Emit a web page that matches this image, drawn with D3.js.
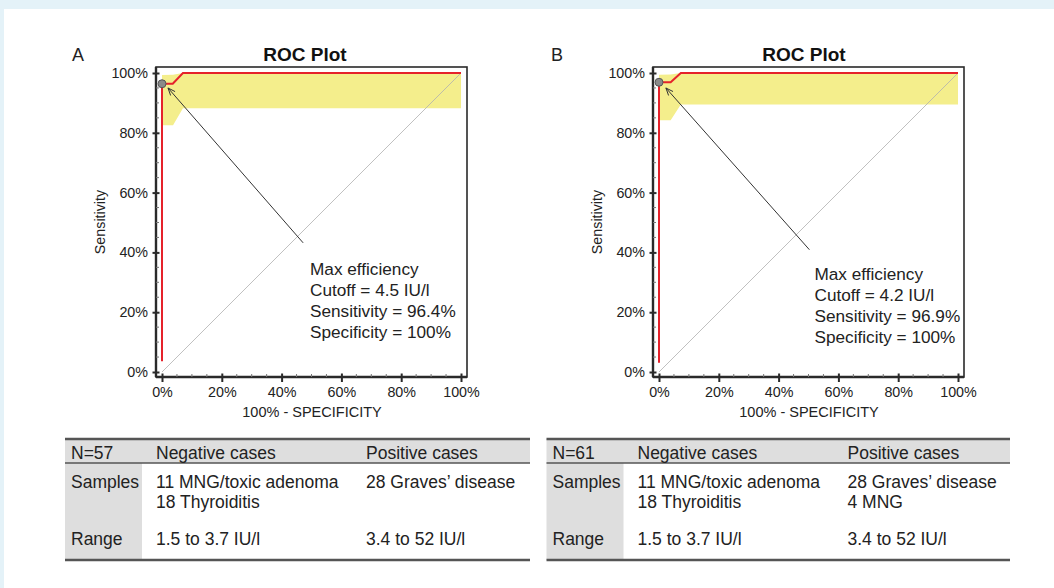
<!DOCTYPE html>
<html><head><meta charset="utf-8">
<script src="https://cdn.jsdelivr.net/npm/d3@7"></script>
<style>
html,body{margin:0;padding:0;background:#e4f2f8;}
svg{display:block;font-family:"Liberation Sans",Arial,sans-serif;}
</style></head>
<body>
<svg id="chart" width="1054" height="588"></svg>
<script>
// ---------- DATA ----------
const panelLetters = ["A", "B"];
const plotTitle = "ROC Plot";
const xAxisTitle = "100% - SPECIFICITY";
const yAxisTitle = "Sensitivity";
const majorTicks = [0, 20, 40, 60, 80, 100];
const minorTicks = [5,10,15,25,30,35,45,50,55,65,70,75,85,90,95];

// ROC curves (x = 100% - specificity, y = sensitivity), percent
const rocA_x = [0, 0, 3.6, 7, 100];
const rocA_y = [3.6, 96.4, 96.4, 100, 100];
const rocB_x = [0, 0, 3.9, 7.3, 100];
const rocB_y = [3.1, 96.9, 96.9, 100, 100];

// confidence band
const ciA_x = [0, 3.7, 7, 100];
const ciA_lo = [82.5, 82.5, 88.2, 88.2];
const ciA_hi = [99.3, 99.4, 100, 100];
const ciB_x = [0, 3.9, 7.3, 100];
const ciB_lo = [84.2, 84.2, 89.5, 89.5];
const ciB_hi = [99.4, 99.5, 100, 100];

// optimal point
const optA = [0, 96.4];
const optB = [0, 96.9];

// annotation text, its anchor and arrow tail (data coords)
const annA_lines = ["Max efficiency", "Cutoff = 4.5 IU/l", "Sensitivity = 96.4%", "Specificity = 100%"];
const annB_lines = ["Max efficiency", "Cutoff = 4.2 IU/l", "Sensitivity = 96.9%", "Specificity = 100%"];
const annA_anchor = [49.5, 34.5];
const annB_anchor = [52, 32.8];
const arrowA = [[47.2, 43.2], [2.0, 95.0]];
const arrowB = [[50.3, 40.9], [2.3, 95.0]];

// tables
const tableA_header = ["N=57", "Negative cases", "Positive cases"];
const tableB_header = ["N=61", "Negative cases", "Positive cases"];
const rowLabels = ["Samples", "Range"];
const tableA_samplesNeg = ["11 MNG/toxic adenoma", "18 Thyroiditis"];
const tableA_samplesPos = ["28 Graves\u2019 disease"];
const tableB_samplesNeg = ["11 MNG/toxic adenoma", "18 Thyroiditis"];
const tableB_samplesPos = ["28 Graves\u2019 disease", "4 MNG"];
const tableA_range = ["1.5 to 3.7 IU/l", "3.4 to 52 IU/l"];
const tableB_range = ["1.5 to 3.7 IU/l", "3.4 to 52 IU/l"];

// ---------- DRAW ----------
const svg = d3.select("#chart");
svg.append("rect").attr("x", 4).attr("y", 9).attr("width", 1050).attr("height", 579).attr("fill", "#fff");

function drawPanel(cfg) {
  const g = svg.append("g").attr("transform", `translate(${cfg.dx},0)`);
  const x = d3.scaleLinear().domain([0, 100]).range([162, 461]);
  const y = d3.scaleLinear().domain([0, 100]).range([372, 73]);
  const frameL = 156, frameR = 467, frameT = 67, frameB = 377;

  const band = cfg.ciX.map((v, i) => ({x: v, lo: cfg.ciLo[i], hi: cfg.ciHi[i]}));
  g.append("path").datum(band)
    .attr("d", d3.area().x(d => x(d.x)).y0(d => y(d.lo)).y1(d => y(d.hi)))
    .attr("fill", "#f4ee8c");

  g.append("path").datum([0, 100])
    .attr("d", d3.line().x(d => x(d)).y(d => y(d)))
    .attr("stroke", "#b0b0b0").attr("stroke-width", 0.8).attr("fill", "none");

  const roc = cfg.rocX.map((v, i) => [v, cfg.rocY[i]]);
  g.append("path").datum(roc)
    .attr("d", d3.line().x(d => x(d[0])).y(d => y(d[1])))
    .attr("stroke", "#e5222b").attr("stroke-width", 2).attr("fill", "none");

  g.append("rect").attr("x", frameL).attr("y", frameT)
    .attr("width", frameR - frameL).attr("height", frameB - frameT)
    .attr("fill", "none").attr("stroke", "#2a2a2a").attr("stroke-width", 1.6);
  g.append("line").attr("x1", frameL).attr("x2", frameL).attr("y1", frameT).attr("y2", frameB)
    .attr("stroke", "#2a2a2a").attr("stroke-width", 2.4);
  g.append("line").attr("x1", frameL).attr("x2", frameR).attr("y1", frameB).attr("y2", frameB)
    .attr("stroke", "#2a2a2a").attr("stroke-width", 2.4);

  const ya = g.append("g").attr("transform", `translate(${frameL},0)`)
    .call(d3.axisLeft(y).tickValues(majorTicks).tickFormat(d => d + "%").tickSize(3.5).tickPadding(4.5));
  ya.select(".domain").remove();
  ya.selectAll(".tick line").attr("x1", 3.5).attr("x2", -3.5).attr("stroke", "#2a2a2a").attr("stroke-width", 2);
  ya.selectAll(".tick text").attr("font-size", 14.3).attr("fill", "#222").attr("font-family", "Liberation Sans, Arial, sans-serif");
  g.append("g").selectAll("line").data(minorTicks).join("line")
    .attr("x1", frameL).attr("x2", frameL + 3).attr("y1", d => y(d)).attr("y2", d => y(d))
    .attr("stroke", "#777").attr("stroke-width", 1);

  const xa = g.append("g").attr("transform", `translate(0,${frameB})`)
    .call(d3.axisBottom(x).tickValues(majorTicks).tickFormat(d => d + "%").tickSize(5).tickPadding(5));
  xa.select(".domain").remove();
  xa.selectAll(".tick line").attr("y1", -3.5).attr("y2", 5).attr("stroke", "#2a2a2a").attr("stroke-width", 2);
  xa.selectAll(".tick text").attr("font-size", 14.3).attr("fill", "#222").attr("font-family", "Liberation Sans, Arial, sans-serif");
  g.append("g").selectAll("line").data(minorTicks).join("line")
    .attr("x1", d => x(d)).attr("x2", d => x(d)).attr("y1", frameB).attr("y2", frameB - 3)
    .attr("stroke", "#777").attr("stroke-width", 1);

  g.append("text").attr("x", 305 + cfg.titleShift).attr("y", 54).attr("text-anchor", "middle")
    .attr("dominant-baseline", "central").attr("font-size", 19).attr("font-weight", "bold").attr("fill", "#111").text(plotTitle);
  g.append("text").attr("x", 100).attr("y", 222).attr("text-anchor", "middle")
    .attr("dominant-baseline", "central").attr("transform", "rotate(-90,100,222)")
    .attr("font-size", 14.3).attr("fill", "#222").text(yAxisTitle);
  g.append("text").attr("x", 312).attr("y", 412).attr("text-anchor", "middle")
    .attr("dominant-baseline", "central").attr("font-size", 14.5).attr("fill", "#222").text(xAxisTitle);

  const [tail, head] = cfg.arrow;
  const hx = x(head[0]), hy = y(head[1]), tx = x(tail[0]), ty = y(tail[1]);
  g.append("line").attr("x1", tx).attr("y1", ty).attr("x2", hx).attr("y2", hy)
    .attr("stroke", "#333").attr("stroke-width", 1);
  const ang = Math.atan2(ty - hy, tx - hx), L = 8, spread = 0.38;
  g.append("path")
    .attr("d", `M${hx + L*Math.cos(ang+spread)},${hy + L*Math.sin(ang+spread)} L${hx},${hy} L${hx + L*Math.cos(ang-spread)},${hy + L*Math.sin(ang-spread)}`)
    .attr("stroke", "#333").attr("stroke-width", 1).attr("fill", "none");

  g.append("circle").attr("cx", x(cfg.opt[0])).attr("cy", y(cfg.opt[1])).attr("r", 4)
    .attr("fill", "#8a8a8a").attr("stroke", "#555").attr("stroke-width", 1);

  g.append("g").selectAll("text").data(cfg.ann).join("text")
    .attr("x", x(cfg.annAnchor[0])).attr("y", (d, i) => y(cfg.annAnchor[1]) + i * 21)
    .attr("dominant-baseline", "central").attr("font-size", 17.2).attr("fill", "#222").text(d => d);
}

function drawLetter(letter, px) {
  svg.append("text").attr("x", px).attr("y", 55).attr("dominant-baseline", "central")
    .attr("font-size", 18).attr("fill", "#222").text(letter);
}

function drawTable(cfg) {
  const g = svg.append("g").attr("transform", `translate(${cfg.left},0)`);
  const W = cfg.width, top = 439, hdrB = 463, bot = 560, labW = 77;
  const cols = [6, 91, 301];
  g.append("rect").attr("x", 0).attr("y", top).attr("width", W).attr("height", hdrB - top).attr("fill", "#dedede");
  g.append("rect").attr("x", 0).attr("y", hdrB).attr("width", labW).attr("height", bot - hdrB).attr("fill", "#dedede");
  g.append("line").attr("x1", 0).attr("x2", W).attr("y1", top).attr("y2", top).attr("stroke", "#555").attr("stroke-width", 2.5);
  g.append("line").attr("x1", 0).attr("x2", W).attr("y1", hdrB).attr("y2", hdrB).attr("stroke", "#555").attr("stroke-width", 1.5);
  g.append("line").attr("x1", 0).attr("x2", W).attr("y1", bot).attr("y2", bot).attr("stroke", "#555").attr("stroke-width", 2.5);
  const txt = (s, cx, cy) => g.append("text").attr("x", cx).attr("y", cy).attr("dominant-baseline", "central")
    .attr("font-size", 17.5).attr("fill", "#222").text(s);
  cfg.header.forEach((s, i) => txt(s, cols[i], 452.5));
  txt(rowLabels[0], cols[0], 481.5);
  cfg.neg.forEach((s, i) => txt(s, cols[1], 481.5 + i * 20));
  cfg.pos.forEach((s, i) => txt(s, cols[2], 481.5 + i * 20));
  txt(rowLabels[1], cols[0], 538.5);
  txt(cfg.range[0], cols[1], 538.5);
  txt(cfg.range[1], cols[2], 538.5);
}

drawLetter(panelLetters[0], 72);
drawLetter(panelLetters[1], 551);
drawPanel({dx: 0, titleShift: 0, rocX: rocA_x, rocY: rocA_y, ciX: ciA_x, ciLo: ciA_lo, ciHi: ciA_hi,
  opt: optA, ann: annA_lines, annAnchor: annA_anchor, arrow: arrowA});
drawPanel({dx: 497, titleShift: 2, rocX: rocB_x, rocY: rocB_y, ciX: ciB_x, ciLo: ciB_lo, ciHi: ciB_hi,
  opt: optB, ann: annB_lines, annAnchor: annB_anchor, arrow: arrowB});
drawTable({left: 65, width: 465, header: tableA_header, neg: tableA_samplesNeg, pos: tableA_samplesPos, range: tableA_range});
drawTable({left: 546.5, width: 463.5, header: tableB_header, neg: tableB_samplesNeg, pos: tableB_samplesPos, range: tableB_range});
</script>
</body></html>
